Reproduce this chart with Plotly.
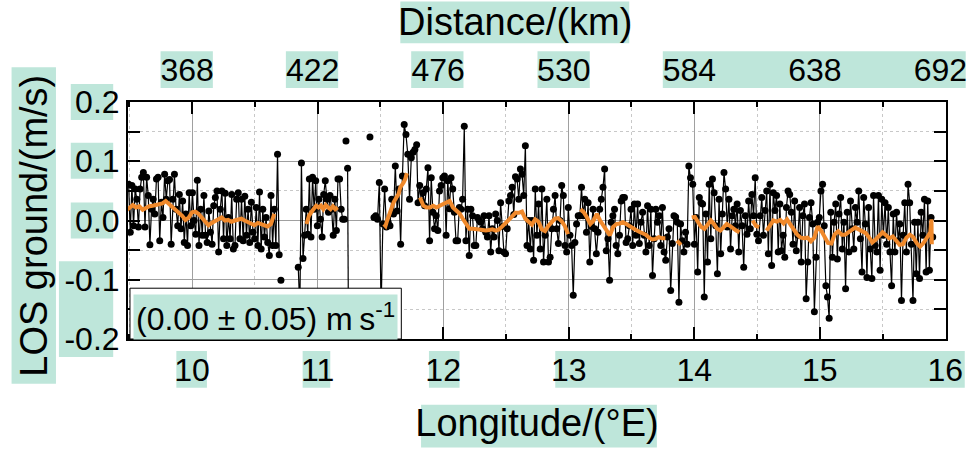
import numpy as np
import plotly.graph_objects as go

# ---------------- data ----------------
lon_ticks = [10, 11, 12, 13, 14, 15, 16]
dist_ticks = [368, 422, 476, 530, 584, 638, 692]
y_ticks = [-0.2, -0.1, 0.0, 0.1, 0.2]
y_ticktext = ["-0.2", "-0.1", "0.0", "0.1", "0.2"]
lon_range = [9.49, 16.005]

# LOS ground velocity samples (mm/s) along the track.
# Each group is a contiguous run; each part is (lon_start, lon_end, values).
los_A = [61, -20, 59, -9, 53, 36, -11, 53, 73, 81, -11, 73, 42, -41, 19, 36, 11, 70, 73, -34,
         31, 5, 78, 36, 67, 69, -40, 36, 78, 19, -9, 44, -14, 33, -37, 11, -42, 47, -9, 47,
         0, -23, 68, -42, 19, -25, 42, -25, -37, 16, -20, -40, 25, 39, 50, -53, 19, 50, -31, 46,
         -42, 5, -31, 44, -48, -42, 36, 47, -31, 36, -34, 41, -25, 19, -37, 31, -20, -31, 22, -42,
         48, -48, 19, -28, 5, -37, -59, 42, -42, 19, -42, 112, -58]
los_A_iso = [-101]
los_B = [-79, -150, 97, -64, -25, 19, -23, 70, -28, 73, 19, 67, -9, 36, 2, -28, 44, 67, 36, 14,
         42, 19, -25, 36, -17, 70, 70, 19, 2, 2]
los_B_iso1 = [134]
los_B_pair = [88, -150]
los_B_iso2 = [141]
los_C = [5, 8, 2, 64, -150, -6, 53, -11, -3, -9, 36, 11, 92, 16, 53, -40, 75, 162, 145, 112,
         36, 106, 115, 120, 128]
los_D1 = [30, 59, 33, 47, 25, 53, 89, -34, 72, 14, -14, 8, -17, 50, 59, 72, 75, -25, 67, 20,
          72, 53, 14, -34, -34, 22, 19, 36, 159, -34, 19, -59, 19, 8, -42, -42, 5, 0, -3, -14,
          8, -20, -28, 8, -53, -14, -28, 11, 0, -51, 30, -10, -53, -56, -14, 33, 42, 56, 10, 74,
          70, 36, 87, 78, 42, 126, -42, 0, -48, 0, -67, 53, -25, 28, -48, 53, -70, -25, 36, -70,
          -62, -14, 19, 42, -14, -39, 0, 59, 42, -42, -53, 22, -25, -42, -126, -37, -6, 8, 8, 56,
          8, 36, -20, 30, -70, -10, 19, -14, -56, -20, 19, 36, 56, 87, -51, -31, -101, -3, 8, 19,
          -42, -56, -25, 33, 39, 39, -37, -31, -9, 19, -42, 28, -25, 28, -39, -3, 14, -25, -53, 25,
          -42, 19, -93, -31, 19, -3, 8, -42, 22, -53, -67, -28, -14, -118, -39, 8, 6, -3, -138, -6,
          -34, -53, -20, -40, 92, 72]
los_D2 = [61, -40, 5, -87, 39, 30, 28, -129, 11, -70, 61, -31, 70, 47, -9, -90, 36, -56, 11, 81,
          53, -11, 36, -48, 8, 19, -9, 28, -53, 17, -9, -79, 8, -23, 33, -14, 44, 8, 72, -23,
          -34, 8, 39, -25, 17, 50, -56, 61, -76, 47, 17, 42, -53, 28, -51, -25, -62, 22, 50, 44,
          14, -40, 33, -51, -25, 22, -70, 8, 28, -132, -70, 5, 30, -6, -154, -62, -3, 5, 50, 61,
          -9, -110, -129, -165, 14, -62, -3, 28, -65, 11, 39, -48, -3, -115, 14, -53, 33, -14, -48, 22,
          -3, 50, -31, -87, 39, -6, -96, 22, -48, -98, 42, -42, -53, 42, -84, 36, -25, 30, -40, 22,
          -53, -110, 11, -53, 14, -34, -6, -135, -25, 30, -53, 61, 30, -40, -135, -3, -90, -3, -98, 14,
          -25, 36, -87, 33, -84, 5, -28]

los_groups = [
    [(9.495, 10.694, los_A)],
    [(10.708, 10.708, los_A_iso)],
    [(10.846, 11.213, los_B)],
    [(11.226, 11.226, los_B_iso1)],
    [(11.239, 11.245, los_B_pair)],
    [(11.417, 11.417, los_B_iso2)],
    [(11.449, 11.789, los_C), (11.800, 13.970, los_D1), (13.988, 15.899, los_D2)],
]

# running mean (mm/s)
mean_A = [17, 22, 26, 22, 24, 18, 22, 24, 25, 26, 27, 29, 33, 28, 25, 19, 14, 8, 1, 5,
          14, 15, 11, 5, 0, -8, -4, 0, 2, 5, 0, 1, -2, 0, 1, 3, 0, -3, -6, -8,
          -4, -6, -9, -10, -6, 11]
mean_B = [-6, 8, 14, 19, 25, 22, 25, 19, 26, 22, 19, 24, 19, 22]
mean_C = [-6, -9, 0, 8, 19, 22, 31, 36, 42, 45, 56, 59, 64, 70, 80]
mean_D1 = [39, 25, 22, 22, 25, 22, 25, 28, 31, 33, 22, 17, 12, 3, -7, -14, -14, -14, -15, -16,
           -17, -16, -15, -17, -15, -10, -5, 1, 7, 13, 13, 15, 3, -2, -7, 2, -2, -15, -18, -9,
           -2, 3, 4, -1, -9, -23]
mean_D2 = [19, 14, 5, -6, 0, 11, 0, -9, -17, -25, -11, -6, -5, -3, -6, -10, -13, -16, -19, -22,
           -24, -29, -32, -31, -28, -30, -30]
mean_D3 = [-34, -38, -41]
mean_D4 = [5, 6, -3, -11, -14, -6, 0, -6, -14, -17, -11, -6, -9, -14, -17, -20]
mean_D5 = [0, -9, -11]
mean_D6 = [-17, -9, 0, -2, 1, -5, 2, -7, -17, -24, -29, -30, -29, -35, -29, -10, -17, -28, -38, -39,
           -23, -18, -24, -24, -19, -16, -12, -15, -18, -21, -28, -37, -32, -26, -20, -25, -30, -27, -35, -41,
           -40, -29, -24, -28, -38, -44, -38, -30, -20]
mean_D6_end = [2, -40]

mean_groups = [
    [(9.476, 10.655, mean_A)],
    [(10.912, 11.160, mean_B)],
    [(11.528, 11.711, mean_C)],
    [(11.816, 12.995, mean_D1)],
    [(13.094, 13.770, mean_D2)],
    [(13.862, 13.894, mean_D3)],
    [(13.980, 14.360, mean_D4)],
    [(14.465, 14.517, mean_D5)],
    [(14.576, 15.880, mean_D6), (15.889, 15.892, mean_D6_end)],
]

stat_label = "(0.00 ± 0.05) m\u2009s<sup>-1</sup>"
x_title = "Longitude/(°E)"
x2_title = "Distance/(km)"
y_title = "LOS ground/(m/s)"


def build(groups):
    xs, ys = [], []
    for g in groups:
        for a, b, v in g:
            xs += list(np.linspace(a, b, len(v)))
            ys += [val / 1000.0 for val in v]
        xs.append(None)
        ys.append(None)
    return xs, ys


los_x, los_y = build(los_groups)
mean_x, mean_y = build(mean_groups)

# km per degree from tick tables, for the secondary (distance) axis
km_per_deg = (dist_ticks[-1] - dist_ticks[0]) / (lon_ticks[-1] - lon_ticks[0])
dist_range = [dist_ticks[0] + (l - lon_ticks[0]) * km_per_deg for l in lon_range]

# ---------------- styling ----------------
W, H = 979, 449
ML, MR, MT, MB = 128, 22, 102, 109
PW, PH = W - ML - MR, H - MT - MB
FONT = "Liberation Sans, Arial, sans-serif"
MINT = "#bee6da"
ORANGE = "#f0892b"
TICK_SIZE = 32
TITLE_SIZE = 38

label_shift_px = 5
dist_shift = label_shift_px / PW * (dist_range[1] - dist_range[0])
dist_range = [d + dist_shift for d in dist_range]


def px(x, y):
    return (x - ML) / PW, (H - MB - y) / PH


fig = go.Figure()
fig.add_trace(go.Scatter(
    x=los_x, y=los_y, mode="lines+markers",
    line=dict(color="black", width=1.2),
    marker=dict(color="black", size=7),
    hoverinfo="skip", showlegend=False))
fig.add_trace(go.Scatter(
    x=mean_x, y=mean_y, mode="lines",
    line=dict(color=ORANGE, width=4),
    hoverinfo="skip", showlegend=False))
fig.add_trace(go.Scatter(
    x=dist_ticks, y=[0] * len(dist_ticks), xaxis="x2", yaxis="y",
    mode="markers", marker=dict(opacity=0), hoverinfo="skip", showlegend=False))

axis_common = dict(
    ticks="inside", ticklen=12, tickwidth=2, tickcolor="black",
    showline=True, linecolor="black", linewidth=2, mirror="allticks",
    showgrid=True, gridcolor="#a0a0a0", gridwidth=1, zeroline=False,
    tickfont=dict(family=FONT, size=TICK_SIZE, color="black"),
)

fig.update_layout(
    width=W, height=H, margin=dict(l=ML, r=MR, t=MT, b=MB),
    paper_bgcolor="white", plot_bgcolor="white",
    font=dict(family=FONT, size=TICK_SIZE, color="black"),
    showlegend=False,
    xaxis=dict(
        range=lon_range, tickmode="array", tickvals=lon_ticks, ticklabelstandoff=2,
        minor=dict(tickmode="linear", tick0=0, dtick=0.5, ticks="inside", ticklen=5, tickwidth=2,
                   tickcolor="black", showgrid=True, gridcolor="#c8c8c8", griddash="dot", gridwidth=1),
        title=dict(text=x_title, font=dict(family=FONT, size=TITLE_SIZE), standoff=22),
        **axis_common),
    xaxis2=dict(
        overlaying="x", side="top", range=dist_range, tickmode="array", tickvals=dist_ticks,
        ticks="", showgrid=False, showline=False, zeroline=False, ticklabelstandoff=14,
        tickfont=dict(family=FONT, size=TICK_SIZE, color="black")),
    yaxis=dict(
        range=[-0.2, 0.2], tickmode="array", tickvals=y_ticks, ticktext=y_ticktext,
        minor=dict(tickmode="linear", tick0=0, dtick=0.05, ticks="inside", ticklen=5, tickwidth=2,
                   tickcolor="black", showgrid=True, gridcolor="#c8c8c8", griddash="dot", gridwidth=1),
        **axis_common),
)

# mint highlight boxes behind texts (pixel boxes)
mint_boxes = [
    (10, 67, 55, 385), (70, 84, 113, 120), (70, 143, 113, 179), (70, 203, 113, 239),
    (58, 262, 113, 358), (161, 51, 214, 88), (288, 51, 341, 88), (415, 51, 468, 88),
    (543, 51, 596, 88), (670, 51, 977, 88), (404, 1, 636, 43), (177, 352, 208, 389),
    (305, 352, 333, 389), (433, 352, 464, 389), (561, 352, 976, 389), (425, 406, 664, 449),
]
for x0, y0, x1, y1 in mint_boxes:
    a0, b0 = px(x0, y1)
    a1, b1 = px(x1, y0)
    fig.add_shape(type="rect", xref="paper", yref="paper", x0=a0, y0=b0, x1=a1, y1=b1,
                  fillcolor=MINT, line=dict(width=0), layer="below")

# axis titles placed as text at their reference positions
tx, ty = px(520, 22)
fig.add_annotation(xref="paper", yref="paper", x=tx, y=ty, xanchor="center", yanchor="middle",
                   text=x2_title, showarrow=False, font=dict(family=FONT, size=TITLE_SIZE, color="black"))
tx, ty = px(33, 226)
fig.add_annotation(xref="paper", yref="paper", x=tx, y=ty, xanchor="center", yanchor="middle",
                   text=y_title, textangle=-90, showarrow=False,
                   font=dict(family=FONT, size=TITLE_SIZE, color="black"))

# statistics box
a0, b0 = px(130, 340)
a1, b1 = px(405, 289)
fig.add_shape(type="rect", xref="paper", yref="paper", x0=a0, y0=b0, x1=a1, y1=b1,
              fillcolor="white", line=dict(color="black", width=1), layer="above")
cx, cy = px(267, 317.5)
fig.add_annotation(xref="paper", yref="paper", x=cx, y=cy, xanchor="center", yanchor="middle",
                   text=stat_label, showarrow=False, bgcolor=MINT, borderpad=2,
                   font=dict(family=FONT, size=32, color="black"))

fig.write_html("out.html")
